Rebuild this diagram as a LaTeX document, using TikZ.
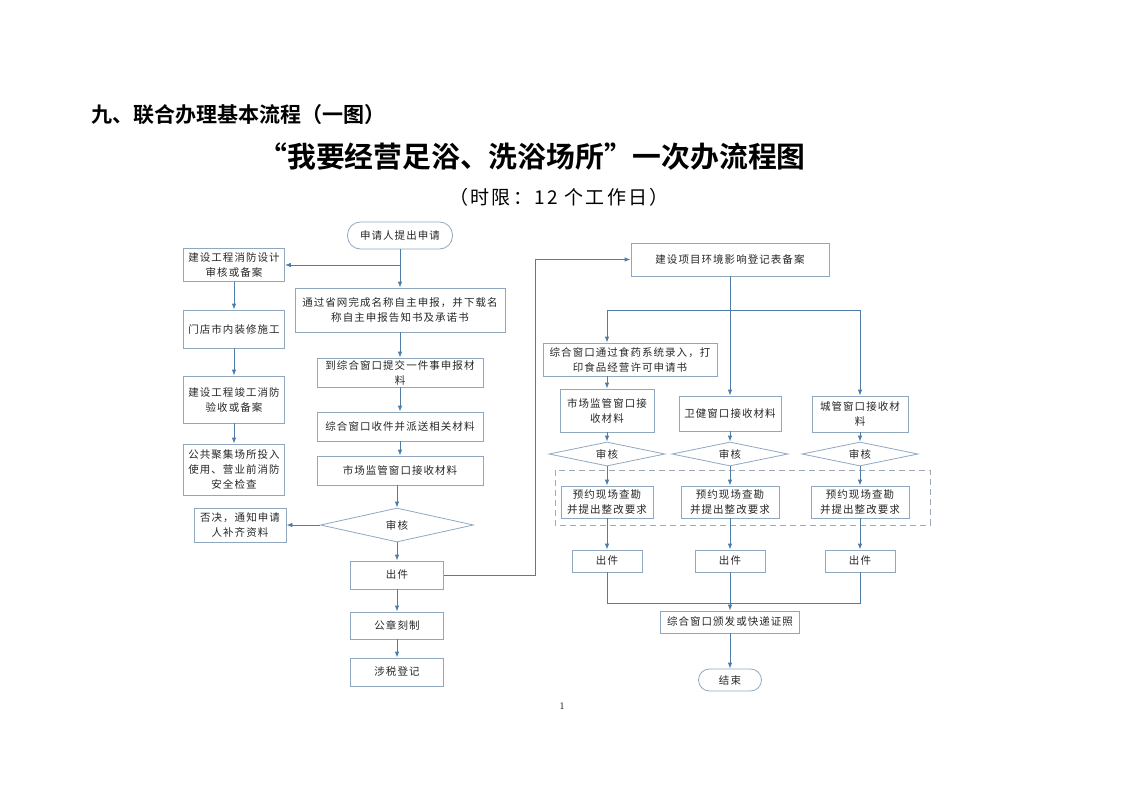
\documentclass[tikz,border=0pt]{standalone}
\usepackage{fontspec}
\usetikzlibrary{shapes.geometric,arrows.meta}
\newfontfamily\cjk{Noto Sans CJK SC}[LetterSpace=10]
\newfontfamily\cjkplain{Noto Sans CJK SC}[LetterSpace=12]
\newfontfamily\cjkhead{Noto Sans CJK SC Bold}
\definecolor{boxline}{RGB}{143,168,192}
\definecolor{flowline}{RGB}{79,125,168}
\definecolor{dashline}{RGB}{160,170,180}
\tikzset{
  box/.style={draw=boxline, line width=0.8pt, inner sep=0pt, align=center, text=black!85, font=\cjk\fontsize{10.5}{15}\selectfont},
  check/.style={box, diamond, aspect=4.5},
  flow/.style={draw=flowline, line width=0.8pt},
}
\begin{document}
\begin{tikzpicture}[x=1pt, y=-1pt, >={Latex[length=6pt,width=4.5pt]}]
\useasboundingbox (0,0) rectangle (1122,793);

\node[anchor=west, font=\cjkhead\fontsize{21}{25}\selectfont] (head) at (88,115) {九、联合办理基本流程（一图）};
\node[font=\cjkhead\fontsize{28.8}{32}\selectfont] (title) at (532,157) {“我要经营足浴、洗浴场所”一次办流程图};
\node[font=\cjkplain\fontsize{19}{22}\selectfont] (limit) at (559,197) {（时限：12 个工作日）};

\node[box, rounded corners=13pt, minimum width=105, minimum height=27] (start) at (400,235.5) {申请人提出申请};
\node[box, minimum width=101, minimum height=33] (fdesign) at (234,265) {建设工程消防设计\\审核或备案};
\node[box, minimum width=101, minimum height=38] (decor) at (234,329) {门店市内装修施工};
\node[box, minimum width=101, minimum height=47] (faccept) at (234,399.5) {建设工程竣工消防\\验收或备案};
\node[box, minimum width=101, minimum height=51] (fcheck) at (234,469.5) {公共聚集场所投入\\使用、营业前消防\\安全检查};

\node[box, minimum width=210, minimum height=44] (namereg) at (400,310) {通过省网完成名称自主申报，并下载名\\称自主申报告知书及承诺书};
\node[box, minimum width=166, minimum height=29] (submit) at (400,372.5) {到综合窗口提交一件事申报材\\料};
\node[box, minimum width=166, minimum height=29] (dispatch) at (400,426.5) {综合窗口收件并派送相关材料};
\node[box, minimum width=166, minimum height=29] (market) at (400,470.5) {市场监管窗口接收材料};
\node[check, minimum width=153, minimum height=34] (review) at (397,525) {审核};
\node[box, minimum width=92, minimum height=34] (reject) at (240,525) {否决，通知申请\\人补齐资料};
\node[box, minimum width=93, minimum height=28] (issue) at (397,575) {出件};
\node[box, minimum width=93, minimum height=27] (seal) at (397,625.5) {公章刻制};
\node[box, minimum width=93, minimum height=28] (tax) at (397,672) {涉税登记};

\coordinate (branch) at (400,265);
\draw[flow] (start) -- (branch);
\draw[flow,->] (branch) -- (fdesign);
\draw[flow,->] (branch) -- (namereg);
\draw[flow,->] (fdesign) -- (decor);
\draw[flow,->] (decor) -- (faccept);
\draw[flow,->] (faccept) -- (fcheck);
\draw[flow,->] (namereg) -- (submit);
\draw[flow,->] (submit) -- (dispatch);
\draw[flow,->] (dispatch) -- (market);
\draw[flow,->] (market.south -| review) -- (review);
\draw[flow,->] (review) -- (reject);
\draw[flow,->] (review) -- (issue);
\draw[flow,->] (issue) -- (seal);
\draw[flow,->] (seal) -- (tax);

\node[box, minimum width=198, minimum height=33] (env) at (730,259.5) {建设项目环境影响登记表备案};
\node[box, minimum width=174, minimum height=33] (foodreg) at (630,359.5) {综合窗口通过食药系统录入，打\\印食品经营许可申请书};
\draw[flow,->] (issue.east) -- ++(91,0) |- (env.west);

\draw[dashline, line width=0.8pt, dash pattern=on 6pt off 4pt] (555,470) rectangle (930,525);

\foreach \x/\n/\rw/\rh/\ry/\rt/\sw in {607/1/94/43/410.5/{市场监管窗口接\\收材料}/92, 730/2/102/35/413.5/{卫健窗口接收材料}/98, 860/3/96/36/414/{城管窗口接收材\\料}/98}
{
    \node[box, minimum width=\rw, minimum height=\rh] (recv\n) at (\x,\ry) {\rt};
    \node[check, minimum width=116, minimum height=24] (chk\n) at (\x,454) {审核};
    \node[box, minimum width=\sw, minimum height=32] (survey\n) at (\x,502) {预约现场查勘\\并提出整改要求};
    \node[box, minimum width=70, minimum height=22] (out\n) at (\x,561) {出件};
    \draw[flow,->] (recv\n) -- (chk\n);
    \draw[flow,->] (chk\n) -- (survey\n);
    \draw[flow,->] (survey\n) -- (out\n);
}

\coordinate (split) at (730,310);
\coordinate (splitL) at (607,310);
\coordinate (splitR) at (860,310);
\draw[flow] (env) -- (split);
\draw[flow] (splitL) -- (splitR);
\draw[flow,->] (splitL) -- (splitL |- foodreg.north);
\draw[flow,->] (split) -- (recv2);
\draw[flow,->] (splitR) -- (recv3);
\draw[flow,->] (foodreg.south -| splitL) -- (recv1);

\node[box, minimum width=139, minimum height=22] (allout) at (730,622) {综合窗口颁发或快递证照};
\node[box, rounded corners=11pt, minimum width=63, minimum height=22] (finish) at (730,680) {结束};
\coordinate (merge) at (730,603);
\draw[flow] (out1) -- (out1 |- merge) -- (out3 |- merge) -- (out3);
\draw[flow,->] (out2) -- (allout);
\draw[flow,->] (allout) -- (finish);

\node[font=\fontsize{10}{12}\selectfont] (pagenum) at (562,706) {1};
\end{tikzpicture}
\end{document}
